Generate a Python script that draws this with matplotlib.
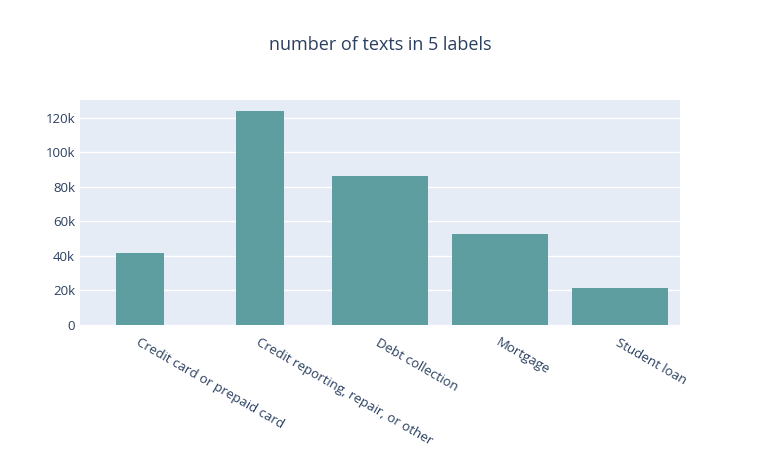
import matplotlib.pyplot as plt
from matplotlib.ticker import FuncFormatter

categories = ["Credit card or prepaid card", "Credit reporting, repair, or other",
              "Debt collection", "Mortgage", "Student loan"]
counts = [41700, 124000, 86400, 52800, 21400]
widths = [0.4, 0.4, 0.8, 0.8, 0.8]

plt.rcParams['font.family'] = ['Open Sans', 'DejaVu Sans']
txt = "#2a3f5f"

fig = plt.figure(figsize=(7.61, 4.5), dpi=100)
ax = fig.add_axes([80 / 761, 125 / 450, 600 / 761, 225 / 450])
ax.set_facecolor("#E5ECF6")

x = list(range(len(categories)))
ax.bar(x, counts, width=widths, color="#5F9EA0", zorder=3)

ax.set_xlim(-0.5, len(categories) - 0.5)
ax.set_ylim(0, 130400)
ax.set_yticks(range(0, 120001, 20000))
ax.yaxis.set_major_formatter(FuncFormatter(lambda v, p: "0" if v == 0 else f"{int(v/1000)}k"))
ax.grid(axis="y", color="white", linewidth=1, zorder=0)
ax.set_xticks(x)
ax.set_xticklabels(categories, rotation=-30, ha="left", rotation_mode="anchor")
ax.tick_params(length=0, labelsize=9.5, colors=txt)
ax.tick_params(axis="x", pad=8)
for s in ax.spines.values():
    s.set_visible(False)

fig.text(380 / 761, 1 - 45 / 450, "number of texts in 5 labels", ha="center", va="center",
         fontsize=13, color=txt)

fig.savefig("out.png", dpi=100)
